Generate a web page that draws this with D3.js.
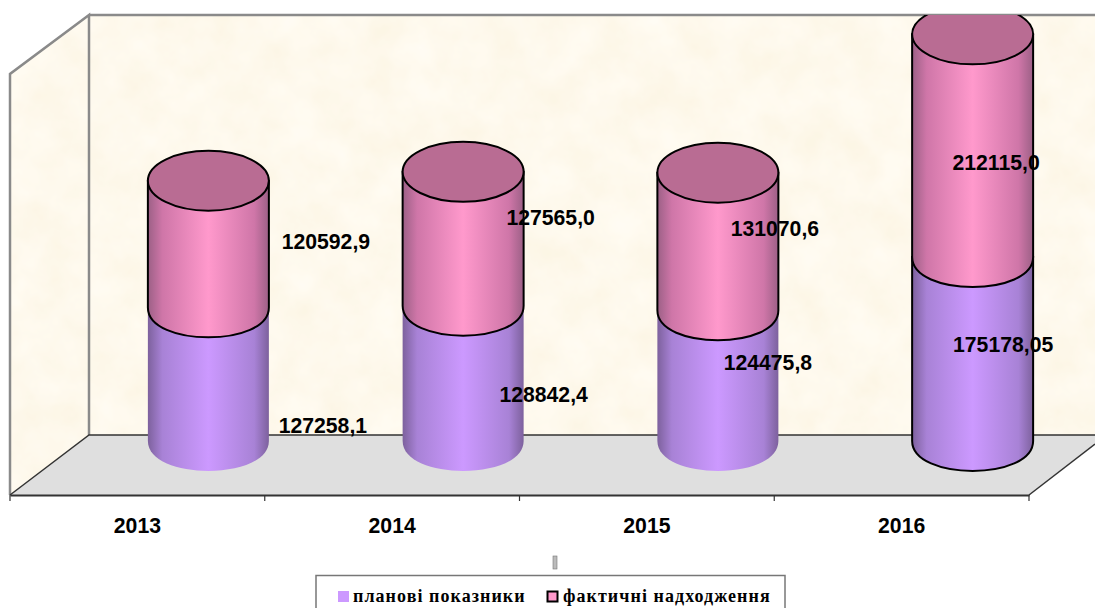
<!DOCTYPE html>
<html>
<head>
<meta charset="utf-8">
<script src="https://cdn.jsdelivr.net/npm/d3@7"></script>
<style>
  html, body { margin: 0; padding: 0; background: #fff; overflow: hidden; }
  svg { display: block; }
  text { font-family: "Liberation Sans", Arial, sans-serif; font-weight: bold; fill: #000; }
  .legend text { font-family: "Liberation Serif", serif; font-size: 18px; letter-spacing: 1.05px; }
</style>
</head>
<body>
<svg width="1095" height="608"></svg>
<script>
const years = ["2013", "2014", "2015", "2016"];
const planValues = [127258.1, 128842.4, 124475.8, 175178.05];
const factValues = [120592.9, 127565.0, 131070.6, 212115.0];
const planLabels = ["127258,1", "128842,4", "124475,8", "175178,05"];
const factLabels = ["120592,9", "127565,0", "131070,6", "212115,0"];
const legendNames = ["планові показники", "фактичні надходження"];

// labels were dragged by hand in the original, so they sit off the segment centre
const planLabelShift = [[114.5, 51], [80.5, 21], [50, -13], [30.5, -5]];
const factLabelShift = [[117.5, -3], [87.5, -21], [57, -13], [23.5, 17]];

const svg = d3.select("svg");
const defs = svg.append("defs");

const frontLeft = 10, frontRight = 1029, frontY = 495;
const depthX = 79, depthY = 60;
const wallTop = 15;
const rx = 60.5, ry = 30;
const labelSize = 21.2;

const x = d3.scaleBand().domain(years).range([frontLeft, frontRight]);
const y = d3.scaleLinear().domain([0, 400000]).range([441, 21]);
const centerX = d => x(d) + x.bandwidth() / 2 + 71;

// parchment texture, kept inside whatever shape it is applied to
const tex = defs.append("filter").attr("id", "parchment")
  .attr("x", 0).attr("y", 0).attr("width", 1).attr("height", 1);
tex.append("feTurbulence")
  .attr("type", "fractalNoise").attr("baseFrequency", 0.025)
  .attr("numOctaves", 4).attr("seed", 7).attr("result", "n");
tex.append("feColorMatrix").attr("in", "n").attr("type", "matrix")
  .attr("values", "0.04 0 0 0 0.97  0.07 0 0 0 0.91  0.16 0 0 0 0.76  0 0 0 0 1")
  .attr("result", "c");
tex.append("feComposite").attr("in", "c").attr("in2", "SourceGraphic").attr("operator", "in");

function sideGradient(id, edge, mid, center) {
  const g = defs.append("linearGradient").attr("id", id);
  [[0, edge], [0.12, mid], [0.5, center], [0.88, mid], [1, edge]].forEach(s => {
    g.append("stop").attr("offset", s[0]).attr("stop-color", s[1]);
  });
}
sideGradient("planSide", "#7d619d", "#a882d6", "#cc99ff");
sideGradient("factSide", "#9c6086", "#cf76a8", "#ff99cc");

defs.append("clipPath").attr("id", "plot").append("rect")
  .attr("x", 0).attr("y", wallTop).attr("width", 1095).attr("height", 500);

// walls and floor
const backX = frontLeft + depthX, backY = frontY - depthY;
svg.append("rect")
  .attr("x", backX).attr("y", wallTop).attr("width", 1095 - backX).attr("height", backY - wallTop)
  .attr("filter", "url(#parchment)");
svg.append("polygon")
  .attr("points", [[frontLeft, wallTop + depthY - 1], [backX, wallTop], [backX, backY], [frontLeft, frontY]].join(" "))
  .attr("fill", "#fdf0d8")
  .attr("filter", "url(#parchment)");
svg.append("polygon")
  .attr("points", [[frontLeft, frontY], [backX, backY], [1095, backY], [1095, backY + 9], [frontRight, frontY]].join(" "))
  .attr("fill", "#dfdfdf");

const wallLine = [
  [[frontLeft, frontY], [frontLeft, wallTop + depthY - 1], [backX, wallTop], [backX, backY]],
  [[backX, wallTop], [1095, wallTop]]
];
svg.selectAll(".wall").data(wallLine).enter().append("path")
  .attr("class", "wall")
  .attr("fill", "none").attr("stroke", "#8a8a8a").attr("stroke-width", 2.5)
  .attr("d", d3.line());

const floorLine = [
  [[frontLeft, frontY], [backX, backY], [1095, backY]],
  [[frontRight, frontY], [1095, backY + 9]]
];
svg.selectAll(".floor").data(floorLine).enter().append("path")
  .attr("class", "floor")
  .attr("fill", "none").attr("stroke", "#333").attr("stroke-width", 1.5)
  .attr("d", d3.line());

// axis along the front edge, ticks between the categories
const axis = svg.append("g").attr("transform", `translate(0,${frontY})`)
  .call(d3.axisBottom(x).tickSize(0).tickPadding(23));
axis.select(".domain").attr("stroke", "#333").attr("stroke-width", 2);
axis.selectAll("text").attr("font-size", labelSize).attr("font-family", null)
  .style("font-family", '"Liberation Sans", Arial, sans-serif');
axis.selectAll(".edge").data(years.concat("end")).enter().append("line")
  .attr("class", "edge")
  .attr("x1", d => d === "end" ? frontRight : x(d))
  .attr("x2", d => d === "end" ? frontRight : x(d))
  .attr("y1", 0).attr("y2", 6)
  .attr("stroke", "#333").attr("stroke-width", 1.2);

function sidePath(cx, yBottom, yTop) {
  const p = d3.path();
  p.moveTo(cx - rx, yTop);
  p.lineTo(cx - rx, yBottom);
  p.bezierCurveTo(cx - rx, yBottom + ry * 1.33, cx + rx, yBottom + ry * 1.33, cx + rx, yBottom);
  p.lineTo(cx + rx, yTop);
  p.closePath();
  return p.toString();
}

const stacks = years.map((year, i) => ({
  year,
  plan: planValues[i],
  total: planValues[i] + factValues[i],
  outlinePlan: year === "2016"
}));

const bars = svg.append("g").attr("clip-path", "url(#plot)");
const col = bars.selectAll("g").data(stacks).enter().append("g");

col.append("path")
  .attr("d", d => sidePath(centerX(d.year), y(0), y(d.plan)))
  .attr("fill", "url(#planSide)")
  .attr("stroke", d => d.outlinePlan ? "#000" : "none")
  .attr("stroke-width", 2);
col.append("path")
  .attr("d", d => sidePath(centerX(d.year), y(d.plan), y(d.total)))
  .attr("fill", "url(#factSide)")
  .attr("stroke", "#000").attr("stroke-width", 2);
col.append("ellipse")
  .attr("cx", d => centerX(d.year)).attr("cy", d => y(d.total))
  .attr("rx", rx).attr("ry", ry)
  .attr("fill", "#b96c93")
  .attr("stroke", "#000").attr("stroke-width", 2);

// value labels
const labels = svg.append("g").attr("font-size", labelSize).attr("text-anchor", "middle");
years.forEach((year, i) => {
  const planMid = (y(0) + y(planValues[i])) / 2;
  const factMid = (y(planValues[i]) + y(planValues[i] + factValues[i])) / 2;
  labels.append("text")
    .attr("x", centerX(year) + planLabelShift[i][0])
    .attr("y", planMid + planLabelShift[i][1])
    .attr("dy", "0.36em")
    .text(planLabels[i]);
  labels.append("text")
    .attr("x", centerX(year) + factLabelShift[i][0])
    .attr("y", factMid + factLabelShift[i][1])
    .attr("dy", "0.36em")
    .text(factLabels[i]);
});

// small leftover handle above the legend
svg.append("rect")
  .attr("x", 553).attr("y", 556).attr("width", 4).attr("height", 13)
  .attr("fill", "#bbb").attr("stroke", "#777").attr("stroke-width", 0.6);

// legend
const legend = svg.append("g").attr("class", "legend");
legend.append("rect")
  .attr("x", 316).attr("y", 575.5).attr("width", 469).attr("height", 50)
  .attr("fill", "#fff").attr("stroke", "#777").attr("stroke-width", 1.5);
legend.append("rect")
  .attr("x", 338).attr("y", 591).attr("width", 11).attr("height", 11)
  .attr("fill", "#cc99ff");
legend.append("rect")
  .attr("x", 547.5).attr("y", 591.5).attr("width", 10).attr("height", 10)
  .attr("fill", "#ff99cc").attr("stroke", "#000").attr("stroke-width", 2);
legend.append("text").attr("x", 353).attr("y", 602).text(legendNames[0]);
legend.append("text").attr("x", 563).attr("y", 602).text(legendNames[1]);
</script>
</body>
</html>
